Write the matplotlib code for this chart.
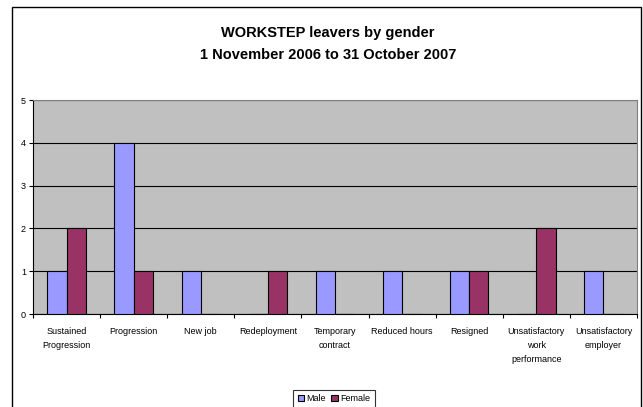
import numpy as np
import matplotlib.pyplot as plt
from matplotlib.patches import Rectangle

categories = ["Sustained\nProgression", "Progression", "New job", "Redeployment",
              "Temporary\ncontract", "Reduced hours", "Resigned",
              "Unsatisfactory\nwork\nperformance", "Unsatisfactory\nemployer"]
male = [1, 4, 1, 0, 1, 1, 1, 0, 1]
female = [2, 1, 0, 1, 0, 0, 1, 2, 0]
yticks = [0, 1, 2, 3, 4, 5]

plt.rcParams['font.family'] = ['Liberation Sans', 'DejaVu Sans']

W, H = 643, 407
fig = plt.figure(figsize=(W / 100, H / 100), dpi=100)

# outer chart border
fig.patches.append(Rectangle((12 / W, -0.05), (641 - 12) / W, 1.05 - 7 / H,
                             transform=fig.transFigure, fill=False,
                             edgecolor='black', linewidth=1))

ax = fig.add_axes([33 / W, (H - 314) / H, (637 - 33) / W, (314 - 100) / H])
ax.set_facecolor('#C0C0C0')

x = np.arange(len(categories))
w = 0.286
ax.bar(x - w / 2, male, w, color='#9999FF', edgecolor='black', linewidth=0.8,
       label='Male', zorder=3)
ax.bar(x + w / 2, female, w, color='#993366', edgecolor='black', linewidth=0.8,
       label='Female', zorder=3)

ax.set_xlim(-0.5, len(categories) - 0.5)
ax.set_ylim(0, 5)
ax.set_yticks(yticks)
ax.tick_params(axis='y', labelsize=6.5, length=3, width=0.8, pad=2)
ax.yaxis.grid(True, color='black', linewidth=0.8, zorder=1)

ax.set_xticks(np.arange(len(categories) + 1) - 0.5)
ax.set_xticklabels([])
ax.set_xticks(x, minor=True)
ax.set_xticklabels(categories, minor=True, fontsize=6.5, linespacing=1.75)
ax.tick_params(axis='x', which='major', length=3, width=0.8)
ax.tick_params(axis='x', which='minor', length=0, pad=9)

for side in ['top', 'right']:
    ax.spines[side].set_color('#808080')
for side in ['left', 'bottom']:
    ax.spines[side].set_color('black')

fig.text(328 / W, 1 - 33 / H, "WORKSTEP leavers by gender", ha='center', va='center',
         fontsize=10.5, fontweight='bold')
fig.text(328 / W, 1 - 55 / H, "1 November 2006 to 31 October 2007", ha='center',
         va='center', fontsize=10.5, fontweight='bold')

leg = fig.legend(loc='upper center', bbox_to_anchor=(334 / W, 1 - 385 / H), ncol=2,
                 fontsize=6.5, frameon=True, fancybox=False, edgecolor='black',
                 handlelength=0.7, handleheight=0.7, handletextpad=0.3,
                 columnspacing=0.6, borderpad=0.5)
leg.get_frame().set_linewidth(0.8)

fig.savefig('out.png', dpi=100)
